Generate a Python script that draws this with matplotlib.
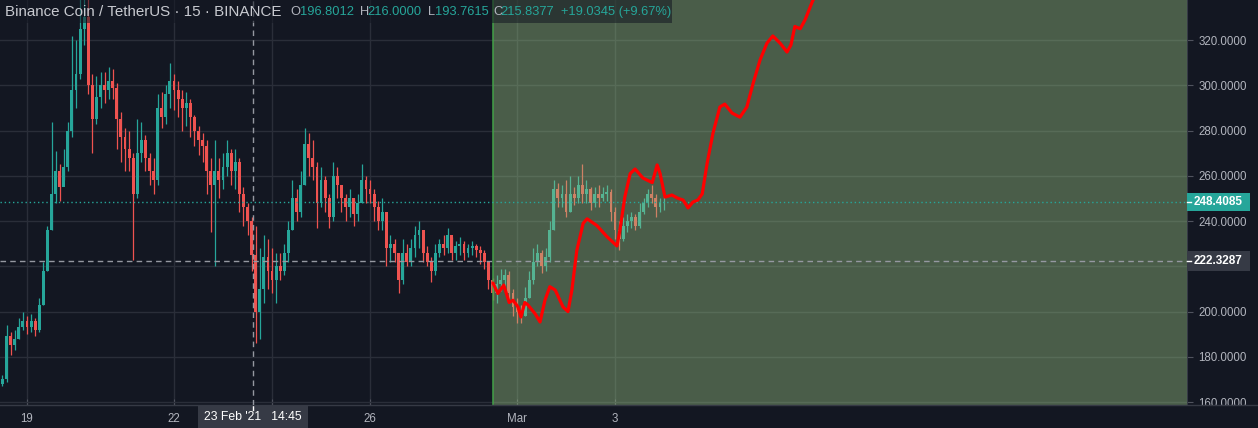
import numpy as np
import matplotlib.pyplot as plt
from matplotlib.patches import Rectangle
from matplotlib.transforms import blended_transform_factory

plt.rcParams['font.family'] = ['Liberation Sans', 'DejaVu Sans']

# 2h candles (aggregated), time in days from 19 Feb 2021 00:00
bar_start = -0.5
bar_step = 2.0 / 24
first_open = 168.0
close = [170, 189, 185, 188, 193, 196, 193, 196, 192, 203,
         218, 236, 252, 262, 255, 264, 280, 298, 305, 325,
         330, 300, 285, 295, 300, 298, 302, 299, 285, 277,
         272, 268, 252, 270, 276, 268, 262, 258, 290, 286,
         296, 302, 298, 294, 290, 292, 286, 280, 276, 273,
         262, 256, 262, 258, 264, 270, 262, 266, 252, 246,
         240, 225, 200, 210, 224, 218, 214, 220, 218, 226,
         236, 250, 244, 256, 274, 268, 264, 248, 258, 250,
         242, 260, 256, 250, 246, 250, 243, 248, 258, 254,
         252, 246, 240, 244, 228, 230, 226, 214, 226, 222,
         228, 234, 236, 226, 222, 218, 226, 230, 228, 234,
         226, 229, 230, 226, 228, 229, 227, 226, 222, 214,
         208, 212, 214, 216, 208, 202, 200, 198, 206, 214,
         222, 226, 220, 224, 236, 254, 250, 252, 244, 252,
         250, 256, 252, 254, 248, 252, 250, 252, 253, 244,
         236, 232, 238, 240, 242, 238, 244, 248, 252, 250,
         246, 248, 248.4085]
high = [172, 194, 191, 192, 197, 200, 198, 199, 197, 206,
        222, 238, 284, 271, 265, 272, 284, 322, 320, 338,
        340, 340, 305, 304, 306, 306, 308, 307, 301, 288,
        281, 280, 270, 285, 284, 278, 270, 268, 296, 297,
        300, 310, 305, 302, 298, 297, 294, 287, 282, 279,
        276, 268, 276, 268, 270, 276, 272, 272, 268, 255,
        248, 242, 238, 228, 234, 232, 228, 226, 226, 230,
        240, 258, 254, 262, 281, 279, 276, 266, 264, 260,
        252, 266, 264, 256, 252, 254, 250, 252, 265, 260,
        258, 254, 249, 250, 244, 234, 232, 226, 232, 230,
        232, 238, 240, 236, 229, 224, 230, 232, 234, 237,
        233, 231, 233, 231, 230, 231, 230, 229, 227, 222,
        215, 216, 219, 219, 218, 210, 206, 203, 211, 218,
        228, 230, 227, 228, 240, 258, 257, 256, 258, 260,
        255, 260, 265, 258, 255, 255, 256, 255, 256, 254,
        246, 240, 242, 243, 244, 243, 248, 250, 254, 256,
        252, 250, 251]
low = [167, 169, 181, 183, 188, 192, 190, 191, 189, 191,
       203, 218, 236, 248, 249, 258, 262, 277, 290, 303,
       318, 296, 270, 283, 290, 292, 294, 294, 272, 266,
       262, 262, 223, 250, 266, 262, 256, 252, 256, 281,
       283, 290, 289, 286, 280, 282, 277, 273, 269, 266,
       252, 235, 220, 250, 254, 260, 256, 254, 244, 238,
       234, 218, 186, 188, 204, 210, 208, 204, 214, 216,
       222, 236, 240, 242, 256, 260, 258, 237, 246, 244,
       237, 240, 250, 244, 240, 242, 238, 240, 248, 248,
       248, 240, 236, 236, 220, 222, 222, 208, 212, 220,
       220, 224, 228, 222, 220, 213, 216, 224, 225, 226,
       223, 223, 225, 223, 224, 225, 224, 221, 219, 210,
       205, 204, 209, 210, 204, 198, 195, 195, 198, 206,
       212, 220, 217, 218, 222, 236, 246, 246, 242, 244,
       247, 248, 248, 248, 245, 246, 246, 249, 249, 240,
       232, 227, 231, 235, 237, 236, 237, 243, 246, 248,
       242, 244, 245]

# drawn forecast path
fc_t = [9.51, 9.61, 9.73, 9.84, 9.92, 10.02, 10.08, 10.16, 10.22, 10.37,
        10.47, 10.57, 10.67, 10.78, 10.94, 11.04, 11.12, 11.22, 11.35, 11.43,
        11.63, 11.84, 12.04, 12.10, 12.20, 12.31, 12.41, 12.57, 12.76, 12.86,
        12.92, 13.02, 13.16, 13.29, 13.39, 13.49, 13.59, 13.69, 13.78, 13.88,
        14.00, 14.14, 14.24, 14.39, 14.55, 14.69, 14.82, 14.96, 15.10, 15.22,
        15.37, 15.51, 15.59, 15.67, 15.78, 15.88, 16.04, 16.39]
fc_p = [212.6, 208, 211.7, 204, 205, 202, 197.6, 204, 203, 199,
        195.4, 205, 211, 209.5, 202, 200, 209.5, 227, 239, 241,
        238, 233, 229, 236, 250.6, 261, 263, 259, 257, 264.8,
        261, 250.6, 251.5, 250, 249.3, 245.8, 248.4, 249.3, 252, 265.6,
        278.9, 290.4, 291.7, 287.7, 285.9, 290.4, 301, 311.2, 318.6, 321.8,
        318.6, 314.7, 317.8, 326, 325, 329, 337.7, 346]

day_ticks = [0, 3, 5, 7, 10, 12]
day_labels = ['19', '22', '', '26', 'Mar', '3']
price_ticks = [160, 180, 200, 220, 240, 260, 280, 300, 320]

title = 'Binance Coin / TetherUS · 15 · BINANCE'
legend_keys = ['O', 'H', 'L', 'C']
legend_vals = ['196.8012', '216.0000', '193.7615', '215.8377']
legend_change = '+19.0345 (+9.67%)'

last_price = 248.4085
cross_price = 222.3287
cross_t = 4.615
cross_label = "23 Feb '21   14:45"
split_t = 9.51

BG = '#131722'
UP = '#26a69a'
DN = '#ef5350'
GRID = '#2a2e39'
TXT = '#b2b5be'
W, H = 1258, 428

close = np.array(close, dtype=float)
high = np.array(high, dtype=float)
low = np.array(low, dtype=float)
t = bar_start + np.arange(len(close)) * bar_step
opn = np.r_[first_open, close[:-1]]
cols = np.where(close >= opn, UP, DN)

fig = plt.figure(figsize=(W / 100, H / 100), dpi=100, facecolor=BG)
ax = fig.add_axes([0, 23 / H, 1187 / W, 405 / H], facecolor=BG)
ax.set_xlim(-0.551, 23.673)
ax.set_ylim(158.7, 337.7)

# candles
ax.vlines(t, low, high, colors=cols, lw=0.9, zorder=2)
body = np.maximum(np.abs(close - opn), 0.5)
ax.bar(t, body, bottom=np.minimum(opn, close), width=0.058, color=cols,
       linewidth=0, zorder=2)

# shaded future zone
ax.axvspan(split_t, 23.673, color='#9dc886', alpha=0.4, lw=0, zorder=3)
ax.axvline(split_t, color='#43a047', lw=1.1, zorder=4)

# lines
ax.axhline(last_price, color=UP, lw=1, ls=(0, (1, 2)), zorder=4)
ax.axhline(cross_price, color='#9598a1', lw=1, ls=(0, (4, 3)), zorder=4)
ax.axvline(cross_t, color='#9598a1', lw=1, ls=(0, (4, 3)), zorder=4)
ax.plot(fc_t, fc_p, color='#ff0000', lw=2.3, zorder=5,
        solid_joinstyle='round', solid_capstyle='round')

# grid / axes (220 label is hidden behind the crosshair price box)
ax.set_axisbelow(True)
ax.set_xticks(day_ticks)
ax.set_xticklabels(day_labels)
ax.set_yticks(price_ticks)
ax.set_yticklabels(['' if p == 220 else f'{p:.4f}' for p in price_ticks])
ax.grid(color=GRID, lw=1)
ax.yaxis.tick_right()
ax.tick_params(axis='y', length=4, color='#50535e', labelcolor=TXT,
               labelsize=8.3, pad=4)
ax.tick_params(axis='x', direction='in', length=4, color='#50535e',
               labelcolor=TXT, labelsize=8.3, pad=6)
for s in ['top', 'left']:
    ax.spines[s].set_visible(False)
for s in ['right', 'bottom']:
    ax.spines[s].set_color('#363a45')

# cover under price axis + separators
fig.patches.append(Rectangle((1187 / W, 0), 71 / W, 23 / H, transform=fig.transFigure,
                             facecolor=BG, edgecolor='none', zorder=1))
fig.lines.append(plt.Line2D([0, 1], [23 / H, 23 / H], transform=fig.transFigure,
                            color='#363a45', lw=1, zorder=2))

# price labels on right axis
by = blended_transform_factory(ax.transAxes, ax.transData)
bw = 63 / 1187
ax.add_patch(Rectangle((1.0, last_price - 3.8), bw, 7.6, transform=by,
                       facecolor=UP, edgecolor='none', clip_on=False, zorder=6))
ax.text(1.0 + bw / 2, last_price, f'{last_price:.4f}', transform=by, ha='center',
        va='center', color='white', fontsize=8.5, fontweight='bold',
        clip_on=False, zorder=7)
ax.add_patch(Rectangle((1.0, cross_price - 4.6), bw, 9.2, transform=by,
                       facecolor='#363a45', edgecolor='none', clip_on=False, zorder=6))
ax.text(1.0 + bw / 2, cross_price, f'{cross_price:.4f}', transform=by, ha='center',
        va='center', color='white', fontsize=8.5, fontweight='bold',
        clip_on=False, zorder=7)
for yv in [last_price, cross_price]:
    ax.plot([1.0, 1.0 + 4 / 1187], [yv, yv], transform=by, color='white', lw=1,
            clip_on=False, zorder=8)

# crosshair time label
bx = blended_transform_factory(ax.transData, ax.transAxes)
ax.add_patch(Rectangle((cross_t - 55 / 49, -23 / 405), 110 / 49, 23 / 405, transform=bx,
                       facecolor='#363a45', edgecolor='none', clip_on=False, zorder=6))
ax.text(cross_t, -11.5 / 405, cross_label, transform=bx, ha='center', va='center',
        color='white', fontsize=8.8, clip_on=False, zorder=7)
ax.plot([cross_t, cross_t], [0, -5 / 405], transform=bx, color='white', lw=1,
        clip_on=False, zorder=8)

# header legend
fig.patches.append(Rectangle((0, 1 - 23 / H), 672 / W, 23 / H, transform=fig.transFigure,
                             facecolor=BG, alpha=0.55, edgecolor='none', zorder=1))
yh = 1 - 12 / H
fig.text(5 / W, yh, title, color='#c8cad0', fontsize=10.9, va='center', zorder=3)
key_x = [290, 360, 428, 493]
val_x = [300, 367, 435, 500]
for k, v, kx, vx in zip(legend_keys, legend_vals, key_x, val_x):
    fig.text(kx / W, yh, k, color=TXT, fontsize=9.3, va='center', zorder=3)
    fig.text(vx / W, yh, v, color=UP, fontsize=9.3, va='center', zorder=3)
fig.text(561 / W, yh, legend_change, color=UP, fontsize=9.3, va='center', zorder=3)

fig.savefig('out.png', dpi=100, facecolor=BG)
